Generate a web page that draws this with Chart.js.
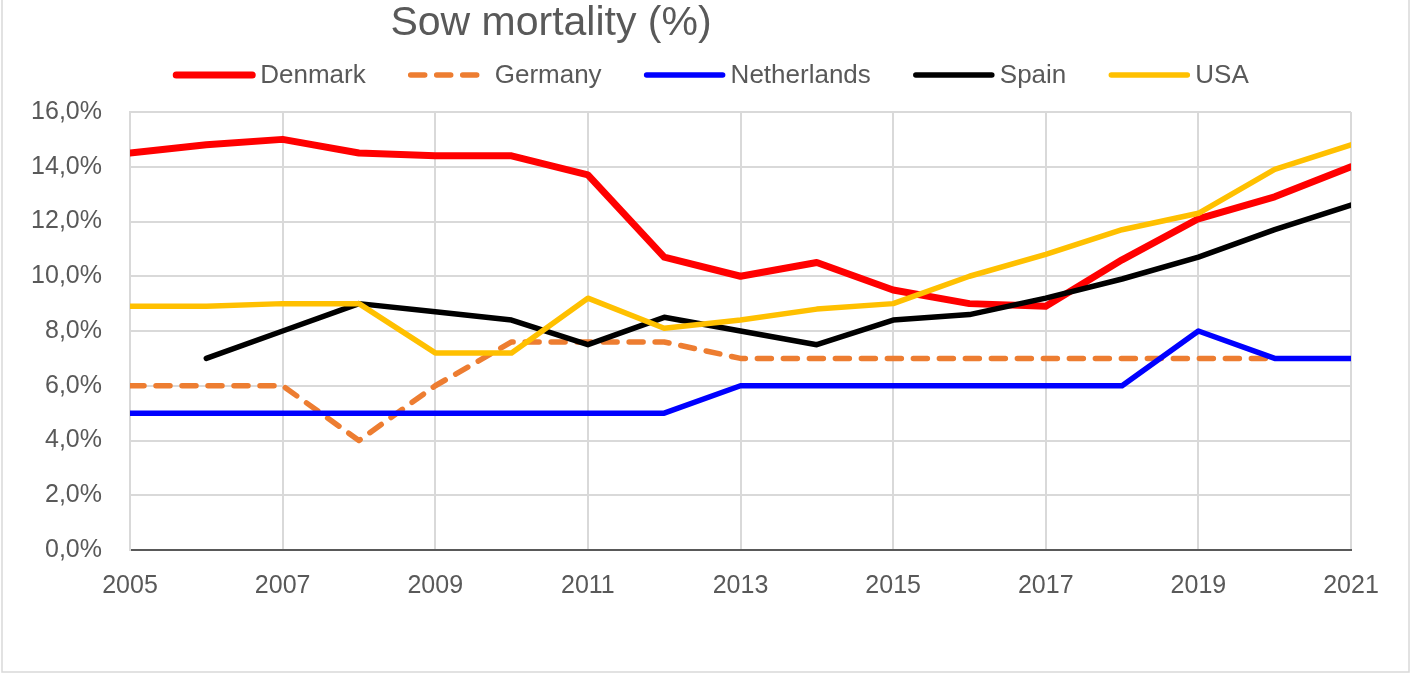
<!DOCTYPE html>
<html>
<head>
<meta charset="utf-8">
<script src="https://cdn.jsdelivr.net/npm/chart.js@4/dist/chart.umd.min.js"></script>
<style>
  html, body { margin: 0; padding: 0; background: #fff; }
  #wrap { width: 1411px; height: 674px; position: relative; }
</style>
</head>
<body>
<div id="wrap"><canvas id="sowChart"></canvas></div>
<script>
// dados (mortalidade de porcas, %)
const years = [2005, 2006, 2007, 2008, 2009, 2010, 2011, 2012, 2013, 2014, 2015, 2016, 2017, 2018, 2019, 2020, 2021];
const denmark = [14.5, 14.8, 15.0, 14.5, 14.4, 14.4, 13.7, 10.7, 10.0, 10.5, 9.5, 9.0, 8.9, 10.6, 12.1, 12.9, 14.0];
const germany = [6.0, 6.0, 6.0, 4.0, 6.0, 7.6, 7.6, 7.6, 7.0, 7.0, 7.0, 7.0, 7.0, 7.0, 7.0, 7.0, null];
const netherlands = [5, 5, 5, 5, 5, 5, 5, 5, 6, 6, 6, 6, 6, 6, 8, 7, 7];
const spain = [null, 7.0, 8.0, 9.0, 8.7, 8.4, 7.5, 8.5, 8.0, 7.5, 8.4, 8.6, 9.2, 9.9, 10.7, 11.7, 12.6];
const usa = [8.9, 8.9, 9.0, 9.0, 7.2, 7.2, 9.2, 8.1, 8.4, 8.8, 9.0, 10.0, 10.8, 11.7, 12.3, 13.9, 14.8];
const yTicks = [0, 2, 4, 6, 8, 10, 12, 14, 16];
const chartTitle = 'Sow mortality (%)';

const textColor = '#595959';
const gridColor = '#d9d9d9';
const fontFamily = '"Liberation Sans", Arial, sans-serif';

function toPoints(values) {
    return years.map((yr, i) => ({ x: yr, y: values[i] }));
}

function makeSeries(label, values, color, width, order, dash) {
    return {
        label: label,
        data: toPoints(values),
        borderColor: color,
        backgroundColor: color,
        borderWidth: width,
        borderDash: dash || [],
        borderCapStyle: 'round',
        borderJoinStyle: 'round',
        pointRadius: 0,
        pointHoverRadius: 0,
        tension: 0,
        spanGaps: false,
        order: order
    };
}

// título, legenda e moldura desenhados à mão
const frameTitleLegend = {
    id: 'frameTitleLegend',
    afterDraw(chart) {
        const ctx = chart.ctx;
        ctx.save();
        // moldura
        ctx.strokeStyle = gridColor;
        ctx.lineWidth = 1.5;
        ctx.beginPath();
        ctx.moveTo(2, 0);
        ctx.lineTo(2, 672);
        ctx.lineTo(1409, 672);
        ctx.lineTo(1409, 0);
        ctx.stroke();
        // título
        ctx.fillStyle = textColor;
        ctx.font = '41px ' + fontFamily;
        ctx.textAlign = 'center';
        ctx.textBaseline = 'middle';
        ctx.fillText(chartTitle, 551, 24);
        // legenda
        const sampleLen = 82, gap = 5, spacing = 42, legendY = 75;
        ctx.font = '26px ' + fontFamily;
        const sets = chart.data.datasets;
        const widths = sets.map(ds => sampleLen + gap + ctx.measureText(ds.label).width);
        const total = widths.reduce((a, b) => a + b, 0) + spacing * (sets.length - 1);
        let x = 711 - total / 2;
        sets.forEach((ds, i) => {
            ctx.strokeStyle = ds.borderColor;
            ctx.lineWidth = ds.borderWidth;
            ctx.lineCap = 'round';
            ctx.setLineDash(ds.borderDash || []);
            ctx.beginPath();
            ctx.moveTo(x + 3, legendY);
            ctx.lineTo(x + sampleLen - 3, legendY);
            ctx.stroke();
            ctx.setLineDash([]);
            ctx.fillStyle = textColor;
            ctx.textAlign = 'left';
            ctx.fillText(ds.label, x + sampleLen + gap, legendY + 1);
            x += widths[i] + spacing;
        });
        ctx.restore();
    }
};

new Chart(document.getElementById('sowChart'), {
    type: 'line',
    data: {
        datasets: [
            makeSeries('Denmark', denmark, '#ff0000', 7, 5),
            makeSeries('Germany', germany, '#ed7d31', 5.5, 4, [14, 12]),
            makeSeries('Netherlands', netherlands, '#0000ff', 5.5, 3),
            makeSeries('Spain', spain, '#000000', 5.5, 2),
            makeSeries('USA', usa, '#ffc000', 5.5, 1)
        ]
    },
    options: {
        responsive: true,
        maintainAspectRatio: false,
        animation: false,
        layout: { padding: { top: 112, right: 60, bottom: 0, left: 0 } },
        plugins: {
            title: { display: false },
            tooltip: { enabled: false },
            legend: { display: false }
        },
        scales: {
            x: {
                type: 'linear',
                min: 2005,
                max: 2021,
                afterFit: (scale) => { scale.height = 124; },
                ticks: {
                    stepSize: 2,
                    padding: 21,
                    color: textColor,
                    font: { family: fontFamily, size: 25 },
                    callback: (value) => String(value)
                },
                grid: { color: gridColor, lineWidth: 2, drawTicks: false },
                border: { color: textColor, width: 2 }
            },
            y: {
                min: 0,
                max: 16,
                afterFit: (scale) => { scale.width = 130; },
                afterBuildTicks: (scale) => { scale.ticks = yTicks.map(v => ({ value: v })); },
                ticks: {
                    padding: 28,
                    color: textColor,
                    font: { family: fontFamily, size: 25 },
                    callback: (value) => value.toFixed(1).replace('.', ',') + '%'
                },
                grid: { color: gridColor, lineWidth: 2, drawTicks: false },
                border: { color: gridColor, width: 2 }
            }
        }
    },
    plugins: [frameTitleLegend]
});
</script>
</body>
</html>
